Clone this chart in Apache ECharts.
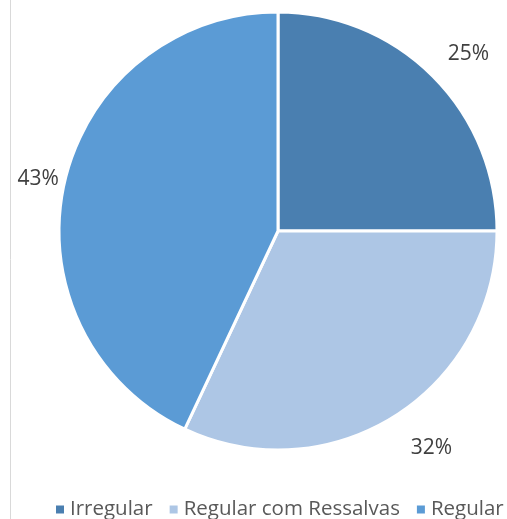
<!DOCTYPE html>
<html>
<head>
<meta charset="utf-8">
<script src="https://cdn.jsdelivr.net/npm/echarts@6/dist/echarts.min.js"></script>
<style>
  html, body { margin: 0; padding: 0; background: #fff; }
  #chart { width: 507px; height: 519px; }
</style>
</head>
<body>
<div id="chart"></div>
<script>
const categories = ['Irregular', 'Regular com Ressalvas', 'Regular']
const values = [25, 32, 43]
const colors = ['#4a7fb0', '#adc6e5', '#5b9bd5']

// comprimento das linhas (ocultas) que posicionam os rótulos
const labelLines = [
  { length: 31, length2: -12 },
  { length: 38, length2: -10 },
  { length: 21, length2: -20 },
]

const chart = echarts.init(document.getElementById('chart'))

chart.setOption({
  animation: false,
  color: colors,
  textStyle: { fontFamily: 'Open Sans', color: '#404040' },
  graphic: [{
    type: 'line',
    shape: { x1: 10.5, y1: 0, x2: 10.5, y2: 519 },
    style: { stroke: '#d9d9d9', lineWidth: 1 },
  }],
  legend: {
    data: categories,
    left: 49,
    top: 494,
    width: 700,
    itemWidth: 10,
    itemHeight: 10,
    itemGap: 15,
    icon: 'rect',
    textStyle: { fontSize: 20.5, color: '#595959' },
  },
  series: [{
    type: 'pie',
    center: [278, 231],
    radius: 219,
    startAngle: 90,
    clockwise: true,
    itemStyle: { borderColor: '#fff', borderWidth: 3 },
    label: {
      position: 'outside',
      formatter: '{c}%',
      fontSize: 21,
      color: '#404040',
    },
    labelLine: { show: false },
    data: categories.map((name, i) => ({
      name,
      value: values[i],
      labelLine: labelLines[i],
    })),
  }],
})
</script>
</body>
</html>
